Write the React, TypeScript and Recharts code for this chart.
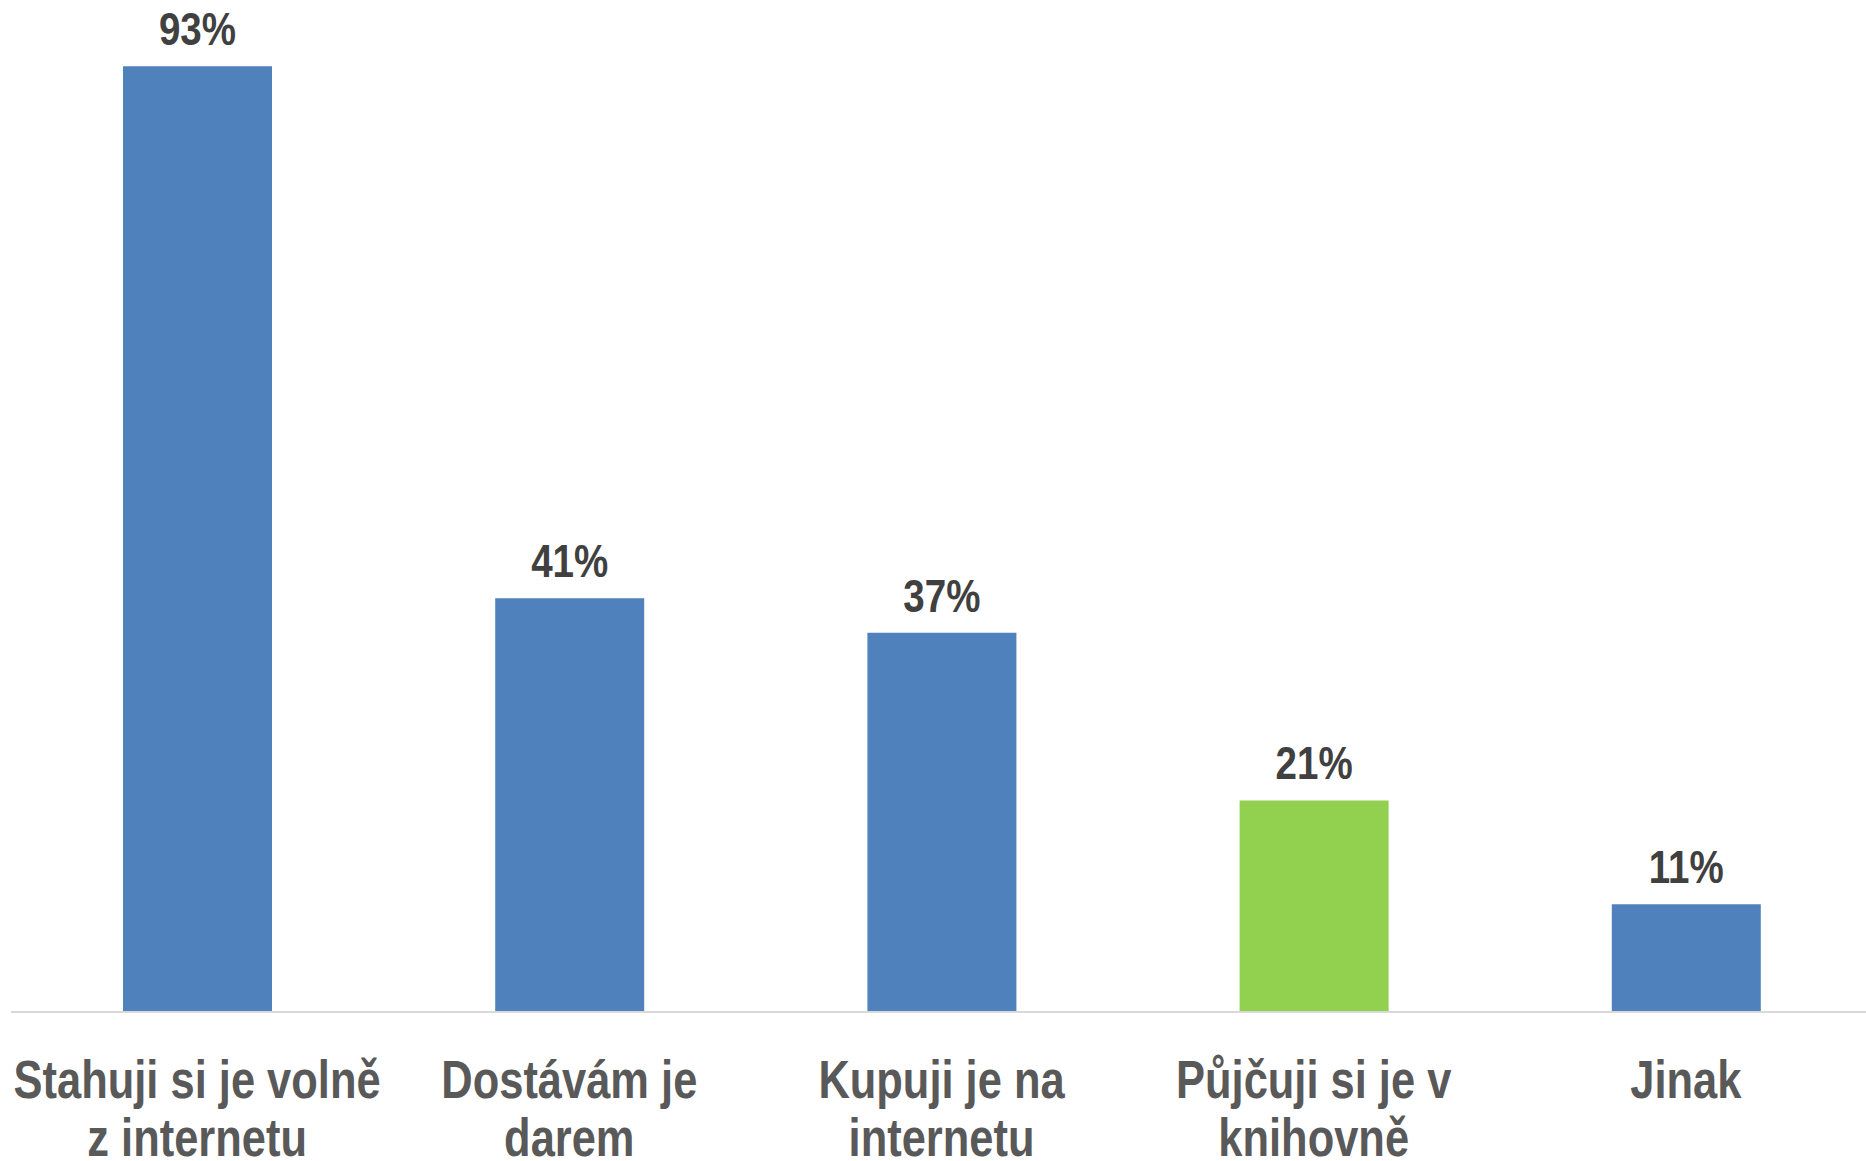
import { BarChart, Bar, XAxis, YAxis, Cell, LabelList } from 'recharts'

// How respondents get their e-books (share of respondents, %)
const CATEGORIES = [
  'Stahuji si je volně\nz internetu',
  'Dostávám je\ndarem',
  'Kupuji je na\ninternetu',
  'Půjčuji si je v\nknihovně',
  'Jinak',
]
// bar heights; labels show them rounded
const VALUES = [93.0, 40.7, 37.3, 20.8, 10.6]
const HIGHLIGHT = 3 // library bar drawn in green

const DATA = CATEGORIES.map((name, i) => ({ name, value: VALUES[i] }))

// no Arial Narrow here: squeeze Liberation Sans (Arial metrics) to narrow width
const FONT = "'Liberation Sans', Arial, sans-serif"
const NARROW = 0.82
const BLUE = '#4f81bd'
const GREEN = '#92d050'

function CategoryTick(props: any) {
  const { x, y, payload } = props
  const lines = String(payload.value).split('\n')
  return (
    <g transform={`translate(${x},${y}) scale(${NARROW},1)`}>
      <text
        x={0}
        y={0}
        textAnchor="middle"
        fill="#595959"
        fontFamily={FONT}
        fontWeight="bold"
        fontSize={53}
      >
        {lines.map((line, i) => (
          <tspan key={i} x={0} dy={i === 0 ? 86 : 58}>
            {line}
          </tspan>
        ))}
      </text>
    </g>
  )
}

function ValueLabel(props: any) {
  const { x, y, width, value } = props
  return (
    <g transform={`translate(${Number(x) + Number(width) / 2},${Number(y) - 21}) scale(${NARROW},1)`}>
      <text
        x={0}
        y={0}
        textAnchor="middle"
        fill="#404040"
        fontFamily={FONT}
        fontWeight="bold"
        fontSize={47}
      >
        {`${Math.round(Number(value))}%`}
      </text>
    </g>
  )
}

export default function App() {
  return (
    <div
      style={{
        position: 'absolute',
        left: 0,
        top: 0,
        width: 1866,
        height: 1161,
        overflow: 'hidden',
        background: '#fff',
      }}
    >
      <BarChart
        width={1880}
        height={1161}
        data={DATA}
        margin={{ top: 46, right: 8, left: 11, bottom: 0 }}
        barSize={149}
      >
        <XAxis
          dataKey="name"
          interval={0}
          height={149}
          tickLine={false}
          tickSize={0}
          tickMargin={0}
          axisLine={{ stroke: '#d9d9d9', strokeWidth: 2 }}
          tick={<CategoryTick />}
        />
        <YAxis hide domain={[0, 95]} />
        <Bar dataKey="value" isAnimationActive={false}>
          {DATA.map((_, i) => (
            <Cell key={i} fill={i === HIGHLIGHT ? GREEN : BLUE} />
          ))}
          <LabelList dataKey="value" content={<ValueLabel />} />
        </Bar>
      </BarChart>
    </div>
  )
}
